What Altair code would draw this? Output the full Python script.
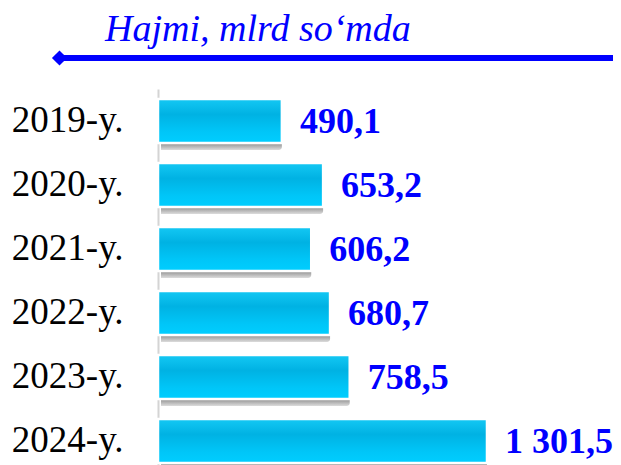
import altair as alt
import pandas as pd

years = ["2019-y.", "2020-y.", "2021-y.", "2022-y.", "2023-y.", "2024-y."]
values = [490.1, 653.2, 606.2, 680.7, 758.5, 1301.5]
labels = ["490,1", "653,2", "606,2", "680,7", "758,5", "1 301,5"]
title_text = "Hajmi, mlrd so\u2018mda"

df = pd.DataFrame({"year": years, "value": values, "label": labels})
one = pd.DataFrame({"t": [title_text]})

FONT = "Liberation Serif"
BLUE = "#0000FF"

y_enc = alt.Y("year:N", sort=None, title=None,
              scale=alt.Scale(range=[81, 465], paddingInner=0.3125, paddingOuter=0.15625),
              axis=alt.Axis(labelFont=FONT, labelFontSize=37, labelColor="#000000",
                            labelPadding=35, ticks=False, domainColor="#d4d4d4",
                            domainWidth=2, grid=False, labelLimit=300))
x_enc = alt.X("value:Q", scale=alt.Scale(domain=[0, 1800]), axis=None)

base = alt.Chart(df)

shadow = base.mark_bar(
    xOffset=3, yOffset=7, cornerRadius=3,
    color=alt.Gradient(gradient="linear", x1=0, y1=0, x2=0, y2=1,
                       stops=[alt.GradientStop(offset=0, color="#9a9a9a"),
                              alt.GradientStop(offset=0.84, color="#8e8e8e"),
                              alt.GradientStop(offset=1, color="#dcdcdc")])
).encode(x=x_enc, y=y_enc)

bars = base.mark_bar(
    stroke="white", strokeWidth=2.5,
    color=alt.Gradient(gradient="linear", x1=0, y1=0, x2=0, y2=1,
                       stops=[alt.GradientStop(offset=0, color="#14c8f4"),
                              alt.GradientStop(offset=0.35, color="#00b2e3"),
                              alt.GradientStop(offset=0.75, color="#00c6f8"),
                              alt.GradientStop(offset=1, color="#00ceff")])
).encode(x=x_enc, y=y_enc)

vals = base.mark_text(
    align="left", baseline="middle", dx=18, dy=1,
    font=FONT, fontSize=36, fontWeight="bold", color=BLUE
).encode(x=x_enc, y=y_enc, text="label:N")

head_text = alt.Chart(one).mark_text(
    align="left", baseline="alphabetic", font=FONT, fontSize=38,
    fontStyle="italic", color=BLUE
).encode(x=alt.value(-53), y=alt.value(33), text="t:N")

head_rule = alt.Chart(one).mark_rule(color=BLUE, strokeWidth=6).encode(
    x=alt.value(-98), x2=alt.value(470), y=alt.value(50))

head_pt = alt.Chart(one).mark_point(
    shape="diamond", filled=True, color=BLUE, size=230, opacity=1
).encode(x=alt.value(-98.5), y=alt.value(50))

chart = alt.layer(shadow, bars, vals, head_rule, head_pt, head_text).properties(
    width=455, height=457,
    autosize=alt.AutoSizeParams(type="none"),
    padding={"left": 150, "top": 0, "right": 0, "bottom": 0},
).configure_view(strokeWidth=0)

chart.save("out.html", embed_options={"renderer": "svg", "actions": False})
